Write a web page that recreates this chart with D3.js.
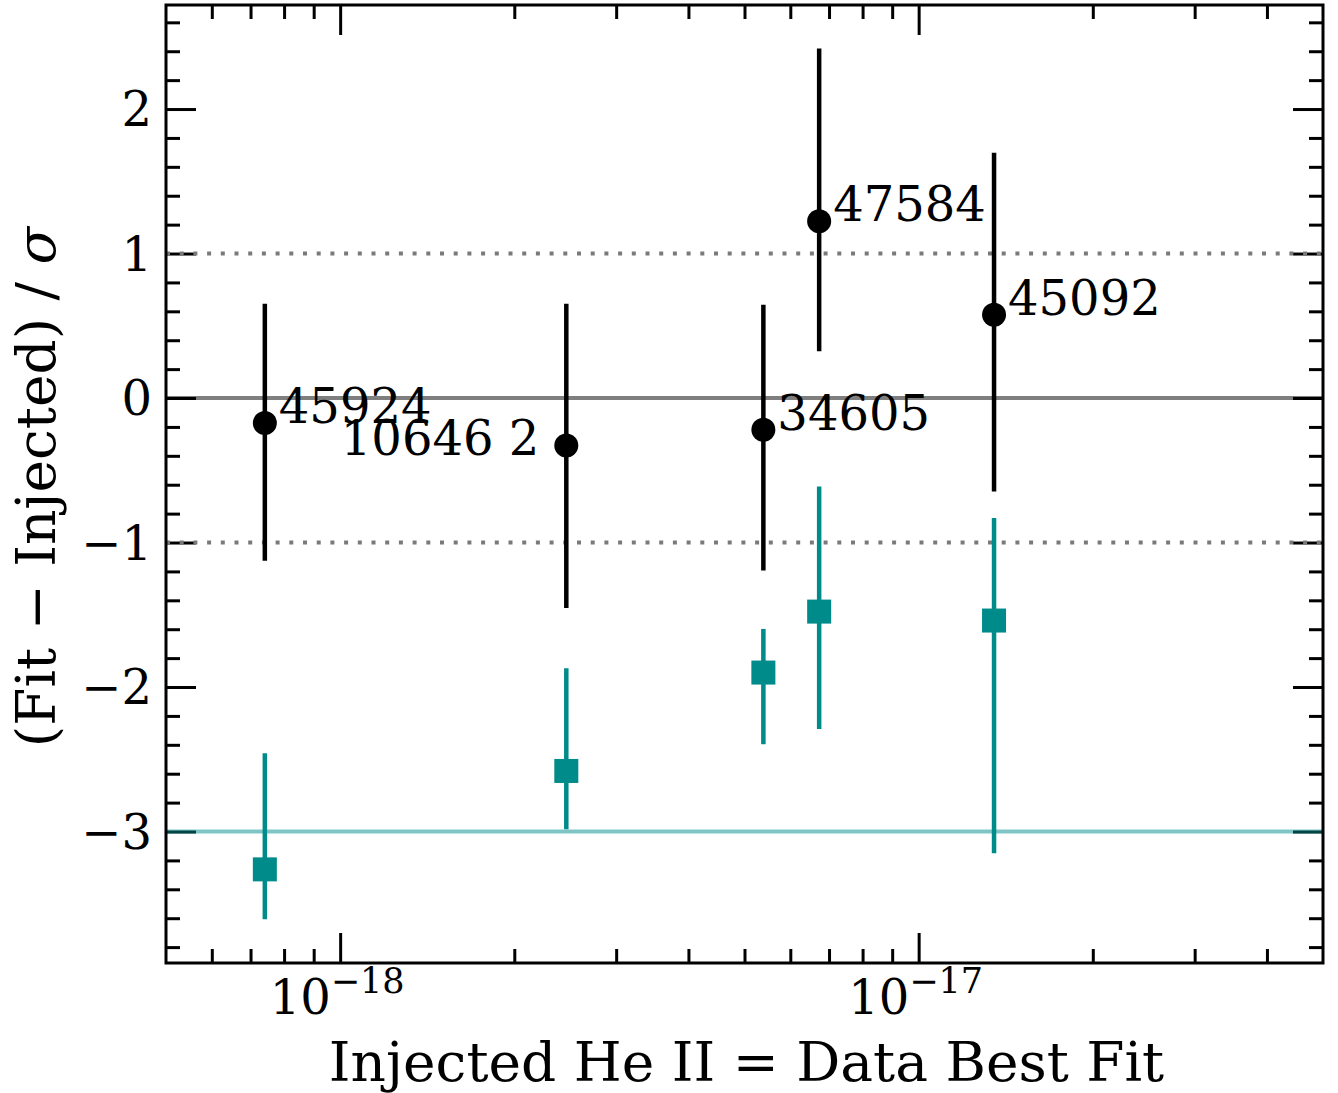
<!DOCTYPE html>
<html>
<head>
<meta charset="utf-8">
<script src="https://cdn.jsdelivr.net/npm/d3@7"></script>
<style>
  html, body { margin: 0; padding: 0; background: #fff; }
  svg { display: block; font-family: "DejaVu Serif", serif; }
</style>
</head>
<body>
<svg id="chart" width="1338" height="1093"></svg>
<script>
// ---- data ----
const ids = ["45924", "10646 2", "34605", "47584", "45092"];
const injected = [7.41e-19, 2.46e-18, 5.39e-18, 6.73e-18, 1.35e-17];
const blackY  = [-0.173, -0.328, -0.220, 1.223, 0.577];
const blackLo = [-1.127, -1.454, -1.194, 0.323, -0.647];
const blackHi = [0.653, 0.653, 0.646, 2.419, 1.697];
const tealY  = [-3.262, -2.581, -1.900, -1.478, -1.540];
const tealLo = [-3.608, -2.985, -2.396, -2.290, -3.151];
const tealHi = [-2.458, -1.870, -1.598, -0.612, -0.831];
const yTicks = [-3, -2, -1, 0, 1, 2];
const xTicks = [1e-18, 1e-17];
const xTickExp = ["−18", "−17"];
const refLines = [0, 1, -1, -3];

// ---- layout ----
const L = 166, T = 5, R = 1323, B = 963;
const svg = d3.select("#chart");
const x = d3.scaleLog().domain([5e-19, 5e-17]).range([L, R]);
const y = d3.scaleLinear().domain([-3.91, 2.72]).range([B, T]);
const teal = "#008b8b";

// minor ticks
const yMinor = d3.range(-3.8, 2.71, 0.2).map(v => Math.round(v * 10) / 10).filter(v => Math.abs(v - Math.round(v)) > 1e-6);
const xMinor = [];
[-19, -18, -17].forEach(e => { for (let m = 2; m <= 9; m++) { const v = m * Math.pow(10, e); if (v > 5e-19 * 1.001 && v < 5e-17 * 0.999) xMinor.push(v); } });

const axes = svg.append("g");
function styleAxis(g) {
  g.select(".domain").remove();
  g.selectAll(".tick line").attr("stroke", "#000").attr("stroke-width", 3);
  g.selectAll(".tick text").remove();
}
axes.append("g").attr("transform", `translate(${L},0)`)
  .call(d3.axisRight(y).tickValues(yTicks).tickSize(30)).call(styleAxis);
axes.append("g").attr("transform", `translate(${L},0)`)
  .call(d3.axisRight(y).tickValues(yMinor).tickSize(14)).call(styleAxis);
axes.append("g").attr("transform", `translate(${R},0)`)
  .call(d3.axisLeft(y).tickValues(yTicks).tickSize(30)).call(styleAxis);
axes.append("g").attr("transform", `translate(${R},0)`)
  .call(d3.axisLeft(y).tickValues(yMinor).tickSize(14)).call(styleAxis);
axes.append("g").attr("transform", `translate(0,${B})`)
  .call(d3.axisTop(x).tickValues(xTicks).tickSize(30)).call(styleAxis);
axes.append("g").attr("transform", `translate(0,${B})`)
  .call(d3.axisTop(x).tickValues(xMinor).tickSize(14)).call(styleAxis);
axes.append("g").attr("transform", `translate(0,${T})`)
  .call(d3.axisBottom(x).tickValues(xTicks).tickSize(30)).call(styleAxis);
axes.append("g").attr("transform", `translate(0,${T})`)
  .call(d3.axisBottom(x).tickValues(xMinor).tickSize(14)).call(styleAxis);

// reference lines
const refs = svg.append("g");
refs.selectAll("line").data(refLines).join("line")
  .attr("x1", L).attr("x2", R)
  .attr("y1", d => y(d)).attr("y2", d => y(d))
  .attr("stroke", d => d === -3 ? teal : (d === 0 ? "#000" : "#7a7a7a"))
  .attr("stroke-opacity", d => d === 1 || d === -1 ? 1 : 0.5)
  .attr("stroke-width", 4)
  .attr("stroke-dasharray", d => d === 1 || d === -1 ? "4,9.7" : null);

// frame
svg.append("rect").attr("x", L).attr("y", T).attr("width", R - L).attr("height", B - T)
  .attr("fill", "none").attr("stroke", "#000").attr("stroke-width", 3);

// tick labels
const yl = svg.append("g").attr("font-size", 48).attr("text-anchor", "end");
yl.selectAll("text").data(yTicks).join("text")
  .attr("x", L - 14).attr("y", d => y(d)).attr("dy", "0.36em")
  .text(d => d < 0 ? "−" + Math.abs(d) : String(d));

const xl = svg.append("g").attr("font-size", 48);
xTicks.forEach((v, i) => {
  const t = xl.append("text").attr("x", x(v) - 3).attr("y", 1014).attr("text-anchor", "middle");
  t.append("tspan").text("10");
  t.append("tspan").attr("font-size", 35).attr("dy", -21).text(xTickExp[i]);
});

// axis labels
svg.append("text").attr("x", (L + R) / 2 + 2).attr("y", 1081).attr("text-anchor", "middle")
  .attr("font-size", 55).text("Injected He II = Data Best Fit");
const ylab = svg.append("text").attr("transform", `translate(55,${(T + B) / 2 + 3}) rotate(-90)`)
  .attr("text-anchor", "middle").attr("font-size", 55);
ylab.append("tspan").text("(Fit − Injected) / ");
ylab.append("tspan").attr("font-style", "italic").text("σ");

// teal series
const tg = svg.append("g");
tg.selectAll("line").data(injected).join("line")
  .attr("x1", d => x(d)).attr("x2", d => x(d))
  .attr("y1", (d, i) => y(tealLo[i])).attr("y2", (d, i) => y(tealHi[i]))
  .attr("stroke", teal).attr("stroke-width", 4.5);
tg.selectAll("rect").data(injected).join("rect")
  .attr("x", d => x(d) - 12).attr("y", (d, i) => y(tealY[i]) - 12)
  .attr("width", 24).attr("height", 24).attr("fill", teal);

// black series
const bg = svg.append("g");
bg.selectAll("line").data(injected).join("line")
  .attr("x1", d => x(d)).attr("x2", d => x(d))
  .attr("y1", (d, i) => y(blackLo[i])).attr("y2", (d, i) => y(blackHi[i]))
  .attr("stroke", "#000").attr("stroke-width", 4.5);
bg.selectAll("circle").data(injected).join("circle")
  .attr("cx", d => x(d)).attr("cy", (d, i) => y(blackY[i])).attr("r", 12).attr("fill", "#000");

// point labels
svg.append("g").attr("font-size", 48).selectAll("text").data(injected).join("text")
  .attr("x", (d, i) => ids[i].includes(" ") ? x(d) - 27 : x(d) + 14)
  .attr("y", (d, i) => y(blackY[i]) + (ids[i].includes(" ") ? 10 : 0))
  .attr("text-anchor", (d, i) => ids[i].includes(" ") ? "end" : "start")
  .text((d, i) => ids[i]);
</script>
</body>
</html>
